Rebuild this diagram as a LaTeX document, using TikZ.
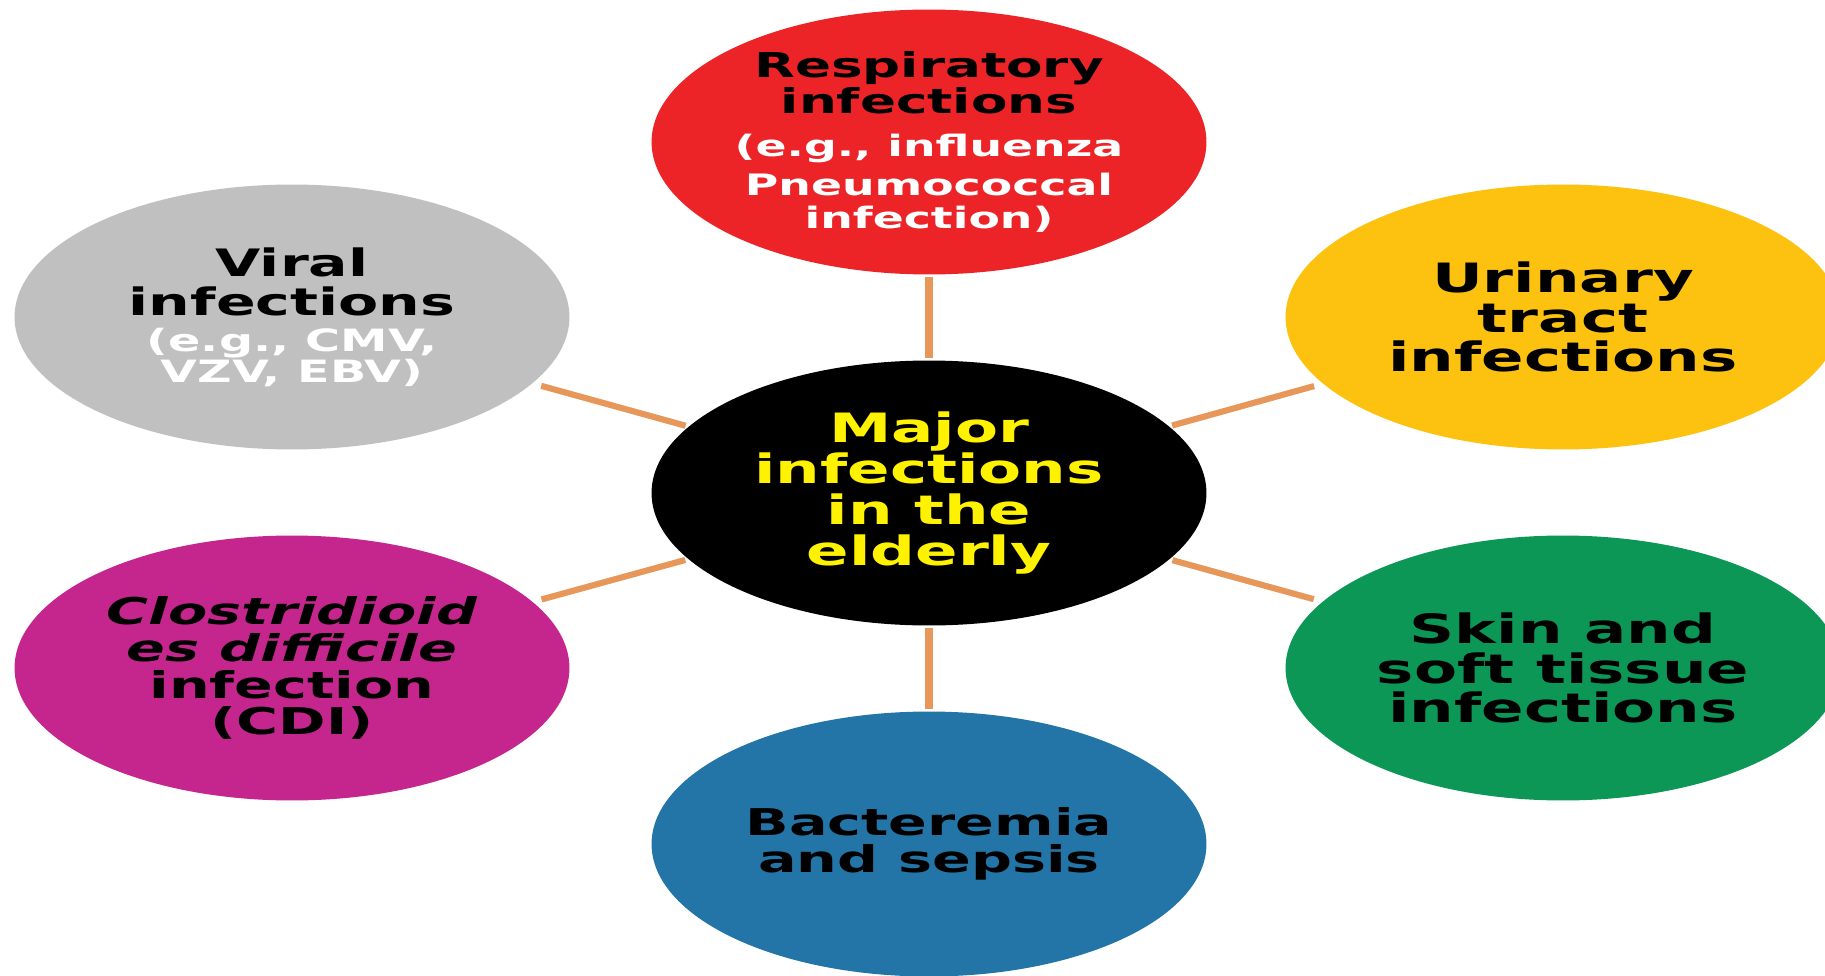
\documentclass[tikz,border=0pt]{standalone}
\usepackage{fontspec}
\usepackage{xcolor}
\usepackage{tikz}
\usetikzlibrary{shapes.geometric}
\setmainfont{DejaVu Sans}[FakeStretch=1.55]
\definecolor{InfRed}{HTML}{EC2428}
\definecolor{InfYellow}{HTML}{FDC210}
\definecolor{InfGreen}{HTML}{0C9757}
\definecolor{InfBlue}{HTML}{2475A7}
\definecolor{InfMagenta}{HTML}{C4268D}
\definecolor{InfGray}{HTML}{C0C0C0}
\definecolor{InfText}{HTML}{FFF200}
\definecolor{LinkOrange}{HTML}{E8975A}
\tikzset{
  topic/.style={ellipse, inner sep=0pt, minimum width=11.1cm, minimum height=5.3cm,
    align=center, font=\bfseries},
  link/.style={draw=LinkOrange, line width=3.5pt, shorten >=0.18cm, shorten <=0.06cm},
  vlink/.style={draw=LinkOrange, line width=5pt, shorten >=0.04cm, shorten <=0.04cm}
}

\begin{document}
\begin{tikzpicture}[x=0.02cm, y=-0.02cm]
  \useasboundingbox (0,0) rectangle (1825,976);

  \node[topic, fill=black, text=InfText, font=\bfseries\fontsize{23}{23.2}\selectfont]
    (elderly) at (929,493) {Major\\infections\\in the\\elderly};

  \node[topic, fill=InfRed, font=\bfseries\fontsize{19.5}{18.5}\selectfont]
    (resp) at (929,142) {Respiratory\\infections\\[6pt]
    {\color{white}\fontsize{16.8}{14.5}\selectfont (e.g., influenza}\\[4pt]
    {\color{white}\fontsize{16.8}{14.5}\selectfont Pneumococcal}\\
    {\color{white}\fontsize{16.8}{14.5}\selectfont infection)}};

  \node[topic, fill=InfYellow, font=\bfseries\fontsize{23}{22.6}\selectfont]
    (uti) at (1563,317) {Urinary\\tract\\infections};

  \node[topic, fill=InfGreen, font=\bfseries\fontsize{23}{22.6}\selectfont]
    (skin) at (1563,668) {Skin and\\soft tissue\\infections};

  \node[topic, fill=InfBlue, font=\bfseries\fontsize{21}{20.8}\selectfont]
    (bact) at (929,844) {Bacteremia\\and sepsis};

  \node[topic, fill=InfMagenta, font=\bfseries\fontsize{21}{21}\selectfont]
    (cdi) at (292,668) {\itshape Clostridioid\\\itshape es difficile\\infection\\(CDI)};

  \node[topic, fill=InfGray, font=\bfseries\fontsize{21.5}{22.5}\selectfont]
    (viral) at (292,317) {Viral\\infections\\[-2pt]
    {\color{white}\fontsize{17.5}{16}\selectfont (e.g., CMV,}\\[-5pt]
    {\color{white}\fontsize{17.5}{16}\selectfont VZV, EBV)}};

  % connectors
  \draw[vlink] (elderly) -- (resp);
  \draw[vlink] (elderly) -- (bact);
  \draw[link] (elderly) -- (uti);
  \draw[link] (elderly) -- (skin);
  \draw[link] (elderly) -- (viral);
  \draw[link] (elderly) -- (cdi);
\end{tikzpicture}
\end{document}
